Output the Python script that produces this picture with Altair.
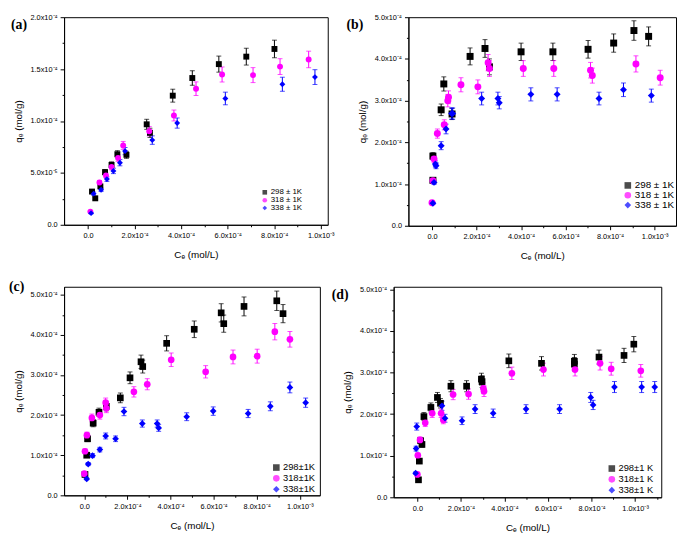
import altair as alt
import pandas as pd

# ---------------- data (x in units of 1e-4 mol/L, y in units of 1e-4 mol/g) -------------
A298_x = [0.17, 0.31, 0.53, 0.73, 1.01, 1.26, 1.65, 2.52, 2.66, 3.64, 4.48, 5.62, 6.80, 8.01]
A298_y = [0.32, 0.255, 0.37, 0.507, 0.577, 0.68, 0.674, 0.968, 0.886, 1.244, 1.414, 1.548, 1.62, 1.694]
A318_x = [0.10, 0.49, 0.77, 1.01, 1.29, 1.51, 2.63, 3.69, 4.64, 5.76, 7.09, 8.25, 9.48]
A318_y = [0.127, 0.407, 0.476, 0.558, 0.643, 0.765, 0.901, 1.053, 1.311, 1.448, 1.442, 1.524, 1.593]
A338_x = [0.13, 0.24, 0.56, 0.81, 1.09, 1.37, 1.59, 2.76, 3.83, 5.90, 8.35, 9.75]
A338_y = [0.112, 0.30, 0.337, 0.44, 0.519, 0.598, 0.71, 0.816, 0.98, 1.217, 1.354, 1.423]

B298_x = [0.04, 0.04, 0.41, 0.53, 0.90, 1.71, 2.38, 2.58, 4.0, 5.43, 7.01, 8.16, 9.07, 9.73]
B298_y = [1.67, 1.09, 2.78, 3.40, 2.68, 4.06, 4.25, 3.81, 4.17, 4.17, 4.23, 4.38, 4.68, 4.54]
B318_x = [0.0, 0.04, 0.09, 0.24, 0.55, 0.71, 0.74, 1.30, 2.06, 2.52, 2.58, 4.10, 5.47, 7.12, 7.20, 9.16, 10.25]
B318_y = [0.55, 1.08, 1.60, 2.21, 2.42, 3.00, 3.08, 3.38, 3.33, 3.91, 3.77, 3.77, 3.77, 3.73, 3.60, 3.88, 3.55]
B338_x = [0.04, 0.09, 0.15, 0.18, 0.41, 0.63, 0.88, 0.93, 2.23, 2.96, 3.02, 4.44, 5.62, 7.50, 8.60, 9.85]
B338_y = [0.54, 1.04, 1.48, 1.44, 1.92, 2.32, 2.69, 2.69, 3.05, 3.05, 2.95, 3.15, 3.15, 3.05, 3.26, 3.12]

C298_x = [0.03, 0.11, 0.15, 0.41, 0.68, 1.02, 1.67, 2.12, 2.63, 2.71, 3.82, 5.10, 6.35, 6.47, 7.41, 8.93, 9.22]
C298_y = [0.52, 1.00, 1.41, 1.80, 2.07, 2.22, 2.43, 2.93, 3.33, 3.21, 3.79, 4.14, 4.55, 4.28, 4.71, 4.85, 4.53]
C318_x = [0.0, 0.03, 0.12, 0.35, 0.72, 0.99, 1.02, 2.30, 2.92, 4.03, 5.63, 6.90, 8.02, 8.84, 9.54]
C318_y = [0.54, 1.10, 1.50, 1.93, 2.00, 2.31, 2.17, 2.58, 2.77, 3.38, 3.08, 3.45, 3.47, 4.08, 3.89]
C338_x = [0.11, 0.18, 0.38, 0.72, 0.99, 1.45, 1.84, 2.69, 3.38, 3.45, 4.75, 5.98, 7.60, 8.63, 9.54, 10.27]
C338_y = [0.41, 0.78, 0.99, 1.14, 1.48, 1.41, 2.09, 1.79, 1.79, 1.68, 1.96, 2.10, 2.04, 2.22, 2.69, 2.31]

D298_x = [0.05, 0.09, 0.15, 0.21, 0.30, 0.62, 0.92, 1.06, 1.54, 2.26, 2.94, 2.97, 4.20, 5.70, 7.21, 7.21, 8.34, 9.49, 9.94]
D298_y = [0.42, 0.87, 1.36, 1.27, 1.94, 2.16, 2.40, 2.26, 2.67, 2.67, 2.84, 2.78, 3.28, 3.22, 3.27, 3.20, 3.37, 3.41, 3.68]
D318_x = [0.0, 0.02, 0.12, 0.36, 0.68, 1.09, 1.19, 1.64, 2.35, 3.03, 3.06, 4.34, 5.79, 7.24, 8.39, 8.90, 10.26]
D318_y = [0.55, 1.01, 1.38, 1.79, 2.02, 2.02, 1.86, 2.47, 2.48, 2.62, 2.55, 2.98, 3.07, 3.07, 3.22, 3.09, 3.04]
D338_x = [-0.08, -0.06, -0.03, 1.13, 1.27, 2.05, 2.65, 3.48, 4.99, 6.53, 7.96, 8.07, 9.05, 10.30, 10.90]
D338_y = [0.58, 1.17, 1.70, 2.20, 1.90, 1.84, 2.12, 2.02, 2.12, 2.12, 2.40, 2.22, 2.65, 2.65, 2.65]

ERR_FRACTION = 0.05  # relative error bar half-length

LABELS_AB = ["298 ± 1K", "318 ± 1K", "338 ± 1K"]
LABELS_C = ["298±1K", "318±1K", "338±1K"]
LABELS_D = ["298±1 K", "318±1 K", "338±1 K"]

COLORS = ["#000000", "#ff00ff", "#0000ff"]
SHAPES = ["square", "circle", "diamond"]

UNIT = 1e-4


def frame(labels, series):
    rows = []
    for lab, (xs, ys) in zip(labels, series):
        for x, y in zip(xs, ys):
            q = y * UNIT
            rows.append({"s": lab, "x": x * UNIT, "y": q,
                         "lo": q * (1 - ERR_FRACTION), "hi": q * (1 + ERR_FRACTION)})
    return pd.DataFrame(rows)


def minor_test(half):
    return f"abs(round(datum.value / {half})) % 2 == 1"


def label_expr(half):
    v = "datum.value"
    e = f"floor(log(abs({v})) / LN10 + 1e-6)"
    mant = f"format({v} / pow(10, {e}), '.1f')"
    sup = f"({e} == -3 ? '\u207b\u00b3' : ({e} == -4 ? '\u207b\u2074' : '\u207b\u2075'))"
    return f"{v} == 0 ? '0.0' : ({minor_test(half)} ? '' : {mant} + 'x10' + {sup})"


def make_axis(title, half, values, title_pad, label_pad=3):
    return alt.Axis(
        title=title, values=values, labelExpr=label_expr(half),
        tickSize={"condition": {"test": minor_test(half), "value": 2}, "value": 4},
        labelFontSize=7.5, labelFlush=False, labelOverlap=False,
        labelPadding=label_pad, titlePadding=title_pad, titleFontSize=10,
        titleFontWeight="normal", grid=False,
    )


def panel(letter, lx, ly, df, labels, xdom, ydom, yhalf, w, h,
          leg_x, leg_y, leg_font, sym_size, pt_size):
    xvals = [i * UNIT for i in range(0, 12) if i * UNIT <= xdom[1] + 1e-12]
    yvals = []
    k = 0
    while k * yhalf <= ydom[1] + 1e-15:
        yvals.append(k * yhalf)
        k += 1
    xs = alt.Scale(domain=xdom, nice=False, zero=False)
    ys = alt.Scale(domain=ydom, nice=False, zero=False)
    xax = make_axis("C\u2091 (mol/L)", UNIT, xvals, 11)
    yax = make_axis("q\u2091 (mol/g)", yhalf, yvals, 6)
    legend = alt.Legend(title=None, orient="none", legendX=leg_x, legendY=leg_y,
                        labelFontSize=leg_font, symbolSize=sym_size, rowPadding=0,
                        labelOffset=2, padding=0, symbolStrokeWidth=0)
    color = alt.Color("s:N", scale=alt.Scale(domain=labels, range=COLORS), legend=legend)
    shape = alt.Shape("s:N", scale=alt.Scale(domain=labels, range=SHAPES), legend=legend)

    base = alt.Chart(df)
    err = base.mark_errorbar(ticks={"size": 5, "thickness": 1}, rule={"strokeWidth": 1}).encode(
        x=alt.X("x:Q", scale=xs, axis=xax),
        y=alt.Y("lo:Q", scale=ys, axis=yax),
        y2="hi:Q",
        color=color,
    )
    pts = base.mark_point(filled=True, opacity=1, size=pt_size).encode(
        x=alt.X("x:Q", scale=xs, axis=xax),
        y=alt.Y("y:Q", scale=ys, axis=yax),
        color=color, shape=shape,
    )
    lab = alt.Chart(pd.DataFrame({"t": [letter]})).mark_text(
        font="Liberation Serif", fontWeight="bold", fontSize=14, align="left",
        baseline="alphabetic", color="black",
    ).encode(x=alt.value(lx), y=alt.value(ly), text="t:N")
    return alt.layer(err, pts, lab).properties(width=w, height=h)


dfa = frame(LABELS_AB, [(A298_x, A298_y), (A318_x, A318_y), (A338_x, A338_y)])
dfb = frame(LABELS_AB, [(B298_x, B298_y), (B318_x, B318_y), (B338_x, B338_y)])
dfc = frame(LABELS_C, [(C298_x, C298_y), (C318_x, C318_y), (C338_x, C338_y)])
dfd = frame(LABELS_D, [(D298_x, D298_y), (D318_x, D318_y), (D338_x, D338_y)])

pa = panel("(a)", -54, 12, dfa, LABELS_AB, [-1.03e-4, 1.03e-3], [0, 2.0e-4], 2.5e-5, 268, 211,
           200, 174, 8, 22, 36)
pb = panel("(b)", -63, 12, dfb, LABELS_AB, [-1.06e-4, 1.096e-3], [0, 5.0e-4], 5e-5, 272, 212,
           218, 166, 10, 45, 50)
pc = panel("(c)", -56, 4, dfc, LABELS_C, [-0.94e-4, 1.093e-3], [0, 5.2e-4], 5e-5, 260, 212,
           211, 179, 9.5, 45, 46)
pd_ = panel("(d)", -63, 12, dfd, LABELS_D, [-1.09e-4, 1.12e-3], [0, 5.06e-4], 5e-5, 272, 214,
            217, 180, 9.5, 45, 46)

res = dict(x="independent", y="independent", color="independent", shape="independent")
leg = dict(color="independent", shape="independent")
row1 = alt.hconcat(pa, pb, spacing=10).resolve_scale(**res).resolve_legend(**leg)
row2 = alt.hconcat(pc, pd_, spacing=10).resolve_scale(**res).resolve_legend(**leg)
chart = alt.vconcat(row1, row2, spacing=18).resolve_scale(**res).resolve_legend(**leg).configure(
    font="Liberation Sans", padding=0,
).configure_view(stroke="black", strokeWidth=1).configure_axis(
    domainColor="black", tickColor="black", labelColor="black", titleColor="black",
    domainWidth=1, tickWidth=1,
)

chart.save("out.html", embed_options={"renderer": "svg", "actions": False})
